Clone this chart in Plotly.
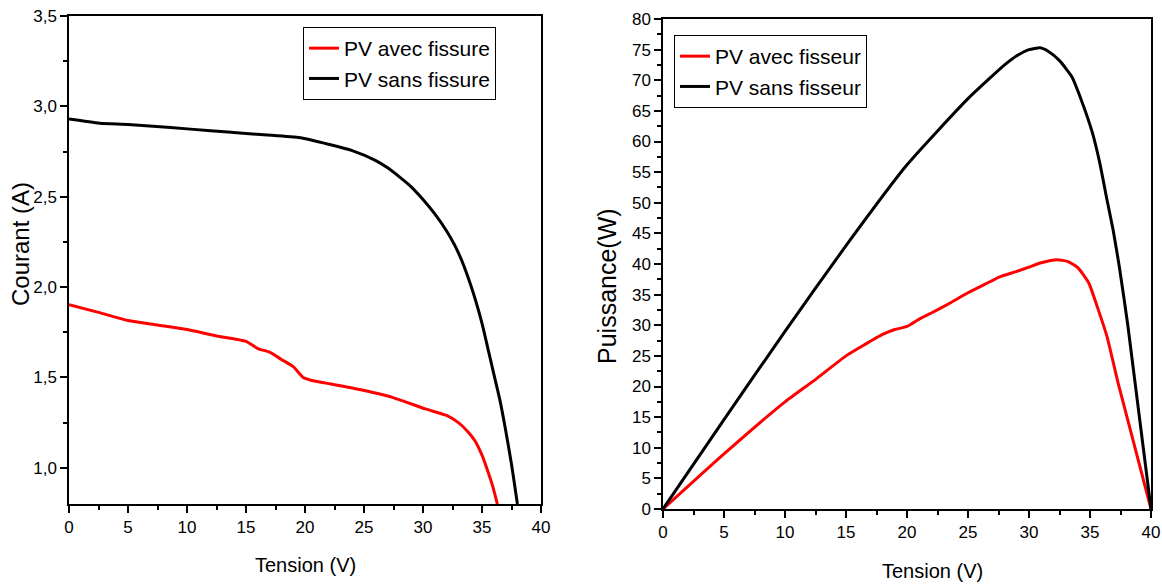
import plotly.graph_objects as go

# Left panel: I-V curves
v_iv_sans = [0, 2.6, 5, 8.6, 12, 15, 16.8, 19.6, 22, 24, 26, 27, 28, 29, 30, 31, 32, 33, 34, 35, 35.5, 36, 36.5, 37, 37.5, 38.0]
i_sans = [2.93, 2.907, 2.9, 2.883, 2.865, 2.85, 2.842, 2.826, 2.79, 2.755, 2.70, 2.66, 2.61, 2.555, 2.485, 2.405, 2.31, 2.19, 2.02, 1.80, 1.66, 1.52, 1.38, 1.21, 1.02, 0.8]

v_iv_avec = [0, 2.5, 5, 7.5, 10, 12.5, 15, 16, 17, 18, 19, 19.85, 20.5, 21.7, 24.4, 27.4, 30.2, 32, 33, 33.8, 34.4, 35.0, 35.5, 35.9, 36.3]
i_avec = [1.903, 1.86, 1.815, 1.79, 1.765, 1.73, 1.70, 1.66, 1.64, 1.60, 1.56, 1.50, 1.485, 1.47, 1.436, 1.39, 1.326, 1.29, 1.25, 1.20, 1.15, 1.07, 0.98, 0.90, 0.8]

# Right panel: P-V curves
v_pv_sans = [0, 5, 10, 15, 20, 25, 28, 29, 30, 30.9, 31.6, 32.5, 33.5, 34.3, 35.2, 35.8, 36.4, 36.9, 37.4, 38.1, 40]
p_sans = [0, 14.6, 29, 43, 56.2, 67, 72.5, 74, 75, 75.3, 74.7, 73.2, 70.6, 66.7, 61.4, 56.5, 50.4, 45.5, 39.6, 30, 0]

v_pv_avec = [0, 5, 10, 12.4, 15, 16.5, 18, 19, 20, 21, 22, 23.5, 25, 26.5, 27.6, 29, 30, 31, 32.3, 33.2, 34.0, 34.9, 35.6, 36.4, 37.3, 40]
p_avec = [0, 9, 17.5, 21, 25, 26.8, 28.5, 29.3, 29.8, 31, 32, 33.6, 35.3, 36.8, 37.9, 38.8, 39.5, 40.2, 40.7, 40.4, 39.4, 36.9, 33, 28.1, 20.6, 0]

x_ticks = [0, 5, 10, 15, 20, 25, 30, 35, 40]

FONT = "Liberation Sans, Arial, sans-serif"

fig = go.Figure()
fig.add_trace(go.Scatter(x=v_iv_avec, y=i_avec, mode="lines", name="PV avec fissure",
                         line=dict(color="#ff0000", width=3, shape="spline", smoothing=0.6),
                         xaxis="x", yaxis="y", legend="legend"))
fig.add_trace(go.Scatter(x=v_iv_sans, y=i_sans, mode="lines", name="PV sans fissure",
                         line=dict(color="#000000", width=3, shape="spline", smoothing=0.6),
                         xaxis="x", yaxis="y", legend="legend"))
fig.add_trace(go.Scatter(x=v_pv_avec, y=p_avec, mode="lines", name="PV avec fisseur",
                         line=dict(color="#ff0000", width=3, shape="spline", smoothing=0.5),
                         xaxis="x2", yaxis="y2", legend="legend2"))
fig.add_trace(go.Scatter(x=v_pv_sans, y=p_sans, mode="lines", name="PV sans fisseur",
                         line=dict(color="#000000", width=3, shape="spline", smoothing=0.5),
                         xaxis="x2", yaxis="y2", legend="legend2"))

axis_common = dict(showline=True, linecolor="black", linewidth=1.5, mirror=True,
                   ticks="outside", ticklen=7, tickwidth=1.5, tickcolor="black",
                   showgrid=False, zeroline=False, automargin=False,
                   tickfont=dict(family=FONT, size=17, color="black"))

minor_x = dict(dtick=2.5, ticks="outside", ticklen=4, tickcolor="black", tickwidth=1.5)

fig.update_layout(
    width=1162, height=586,
    margin=dict(l=0, r=0, t=0, b=0, autoexpand=False),
    paper_bgcolor="white", plot_bgcolor="white",
    separators=", ",
    font=dict(family=FONT, color="black"),
    xaxis=dict(domain=[69/1162, 541/1162], range=[0, 40], tickvals=x_ticks, minor=minor_x,
               anchor="y", **axis_common),
    yaxis=dict(domain=[(586-504)/586, (586-16)/586], range=[0.8, 3.5], dtick=0.5, tick0=0, tickformat=".1f",
               minor=dict(dtick=0.25, ticks="outside", ticklen=4, tickcolor="black", tickwidth=1.5),
               anchor="x", **axis_common),
    xaxis2=dict(domain=[663/1162, 1151/1162], range=[0, 40], tickvals=x_ticks, minor=minor_x,
                anchor="y2", **axis_common),
    yaxis2=dict(domain=[(586-509)/586, (586-19)/586], range=[0, 80], dtick=5,
                minor=dict(dtick=2.5, ticks="outside", ticklen=4, tickcolor="black", tickwidth=1.5),
                anchor="x2", **axis_common),
    legend=dict(x=303/1162, y=(586-27)/586, xanchor="left", yanchor="top",
                bordercolor="black", borderwidth=1, bgcolor="white",
                font=dict(family=FONT, size=21), tracegroupgap=0),
    legend2=dict(x=674/1162, y=(586-35)/586, xanchor="left", yanchor="top",
                 bordercolor="black", borderwidth=1, bgcolor="white",
                 font=dict(family=FONT, size=21), tracegroupgap=0),
    showlegend=True,
    annotations=[
        dict(text="Courant (A)", x=20/1162, y=(586-244)/586, xref="paper", yref="paper",
             textangle=-90, showarrow=False, xanchor="center", yanchor="middle",
             font=dict(family=FONT, size=24)),
        dict(text="Puissance(W)", x=607/1162, y=(586-286)/586, xref="paper", yref="paper",
             textangle=-90, showarrow=False, xanchor="center", yanchor="middle",
             font=dict(family=FONT, size=25)),
        dict(text="Tension (V)", x=305/1162, y=(586-565)/586, xref="paper", yref="paper",
             showarrow=False, xanchor="center", yanchor="middle",
             font=dict(family=FONT, size=20)),
        dict(text="Tension (V)", x=932/1162, y=(586-571)/586, xref="paper", yref="paper",
             showarrow=False, xanchor="center", yanchor="middle",
             font=dict(family=FONT, size=20)),
    ],
)

fig.write_html("out.html")
